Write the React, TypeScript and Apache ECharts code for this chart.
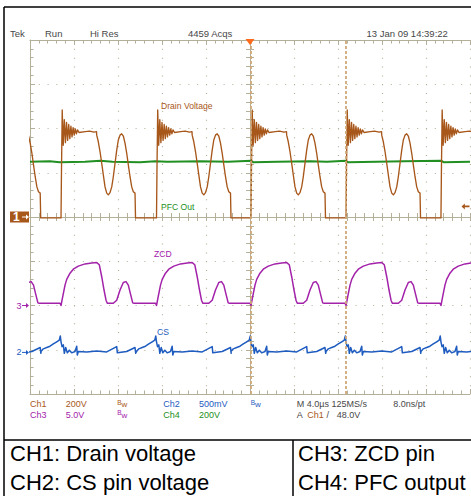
import React, { useEffect, useRef } from "react";
import * as echarts from "echarts";

const W = 471;
const H = 496;
const FONT = '"Liberation Sans", Arial, sans-serif';

// Graticule: 10 horizontal × 8 vertical divisions
const GRID = { left: 30, top: 40, width: 440, height: 354 };
const T_MIN = -20; // µs
const T_MAX = 20;
const T_PER_DIV = 4; // 4.0 µs/div
const Y_MIN = -4; // divisions
const Y_MAX = 4;

// Colours of the four channels
const CH1 = "#a8571a";
const CH2 = "#1f5cc0";
const CH3 = "#a322aa";
const CH4 = "#228f22";
const GRAY = "#474747";
const GRATICULE = "#b3af98";
const CURSOR = "#cfa878";

// Instants (µs) at which the MOSFET turns off and the drain snaps high
const switchEdges = [-25.8, -17.18, -8.5, 0.09, 8.73, 17.36];
// Cursor positions (µs)
const cursors = [0.09, 8.73];

// One switching period of each trace: [µs after the edge, level in divisions]
const drainCycle: [number, number][] = [
  [0, -0.02], [0.04, 1.0], [0.109, 2.42], [0.2, 1.62], [0.3, 2.2],
  [0.4, 1.68], [0.5, 2.14], [0.6, 1.73], [0.7, 2.09], [0.8, 1.77],
  [0.9, 2.05], [1.0, 1.81], [1.1, 2.02], [1.2, 1.85], [1.3, 1.99],
  [1.4, 1.88], [1.5, 1.97], [1.636, 1.91], [2.2, 1.93], [2.6, 1.94], [3.0, 1.92],
  [3.227, 1.93], [3.245, 1.85], [3.39, 1.7], [3.545, 1.48], [3.7, 1.21],
  [3.845, 0.95], [4.0, 0.68], [4.155, 0.54], [4.3, 0.5], [4.455, 0.55],
  [4.61, 0.68], [4.755, 0.91], [4.909, 1.21], [5.064, 1.51], [5.209, 1.74],
  [5.364, 1.85], [5.518, 1.88], [5.664, 1.83], [5.818, 1.67], [5.973, 1.44],
  [6.118, 1.18], [6.273, 0.91], [6.427, 0.68], [6.573, 0.57], [6.727, 0.54],
  [6.773, -0.02],
];

const zcdCycle: [number, number][] = [
  [-0.091, -1.95], [0, -2.0], [0.155, -1.8], [0.364, -1.54], [0.518, -1.41],
  [0.818, -1.27], [1.118, -1.18], [1.573, -1.11], [2.182, -1.06], [2.791, -1.04],
  [3.245, -1.03], [3.482, -1.08], [3.7, -1.35], [3.909, -1.65], [4.091, -1.88],
  [4.209, -1.95], [4.755, -1.95], [5.064, -1.88], [5.364, -1.65], [5.664, -1.48],
  [5.909, -1.46], [6.118, -1.54], [6.336, -1.76], [6.518, -1.94], [6.636, -1.95],
];

const csCycle: [number, number][] = [
  [-1.818, -3.04], [-1.609, -2.98], [-1.3, -2.95], [-1.0, -2.92], [-0.7, -2.87],
  [-0.391, -2.82], [-0.155, -2.78], [-0.064, -2.69], [0, -2.82], [0.091, -2.93],
  [0.209, -2.89], [0.3, -3.08], [0.427, -2.95], [0.573, -3.07], [0.755, -3.01],
  [0.973, -3.07], [1.273, -3.04], [1.427, -2.92], [1.482, -3.12], [1.573, -3.04],
  [2.336, -3.05], [3.245, -3.03], [4.155, -3.05], [5.064, -2.93], [5.118, -3.07],
  [5.973, -3.04], [6.727, -2.95], [6.791, -3.08],
];

// PFC output: a steady DC level with small switching blips
const pfcOut: [number, number][] = [
  [-20, 1.25], [-18.2, 1.26], [-17.3, 1.24], [-15, 1.25], [-13.6, 1.27],
  [-12.5, 1.25], [-10, 1.24], [-8.6, 1.26], [-7.5, 1.25], [-4.5, 1.26],
  [-2, 1.25], [0.1, 1.27], [0.3, 1.24], [2.5, 1.25], [5.5, 1.26], [7, 1.25],
  [8.7, 1.27], [8.9, 1.24], [11.5, 1.25], [14, 1.26], [17.4, 1.27],
  [17.6, 1.24], [20, 1.25],
];

// Ground reference markers (divisions)
const groundMarks = [
  { ch: "1", level: 0, color: CH1, boxed: true },
  { ch: "3", level: -2, color: CH3, boxed: false },
  { ch: "2", level: -3.06, color: CH2, boxed: false },
];

// Trigger: Ch1 rising, 48.0 V at 200 V/div
const TRIG_LEVEL_V = 48;
const CH1_V_PER_DIV = 200;

const statusTop: [number, string][] = [
  [10, "Tek"], [45, "Run"], [90, "Hi Res"], [188, "4459 Acqs"], [366.5, "13 Jan 09 14:39:22"],
];

const traceLabels: [number, number, string, string][] = [
  [161, 106, "Drain Voltage", CH1],
  [161, 207, "PFC Out", CH4],
  [154, 253.5, "ZCD", CH3],
  [157, 331.5, "CS", CH2],
];

const legendLeft = ["CH1: Drain voltage", "CH2: CS pin voltage"];
const legendRight = ["CH3: ZCD pin", "CH4: PFC output"];

function repeatCycle(cycle: [number, number][], edges: number[]): [number, number][] {
  const out: [number, number][] = [];
  edges.forEach((e) => cycle.forEach(([t, v]) => out.push([+(e + t).toFixed(3), v])));
  return out;
}

const yPx = (v: number) => GRID.top + ((Y_MAX - v) / (Y_MAX - Y_MIN)) * GRID.height;

function txt(x: number, y: number, s: string, color: string, size: number, extra: any = {}) {
  return {
    type: "text",
    x,
    y,
    silent: true,
    style: { text: s, fill: color, font: `${size}px ${FONT}`, verticalAlign: "middle", align: "left", ...extra },
  };
}

function bw(x: number, y: number, color: string) {
  return [txt(x, y - 1.8, "B", color, 6.5), txt(x + 4.2, y + 0.6, "w", color, 8)];
}

export default function App() {
  const ref = useRef<HTMLDivElement>(null);

  useEffect(() => {
    if (!ref.current) return;
    const chart = echarts.init(ref.current, undefined, { renderer: "svg" });

    const edgeAxisX = (pos: "top" | "bottom", split: boolean) => ({
      type: "value",
      min: T_MIN,
      max: T_MAX,
      interval: T_PER_DIV,
      position: pos,
      axisLine: { show: true, onZero: false, lineStyle: { color: GRATICULE, width: 1 } },
      axisTick: { show: true, inside: true, length: 5, lineStyle: { color: GRATICULE } },
      minorTick: { show: true, splitNumber: 5, length: 3.5, lineStyle: { color: GRATICULE } },
      axisLabel: { show: false },
      splitLine: {
        show: split,
        lineStyle: { color: GRATICULE, width: 1.2, type: [1, 7.85] },
      },
    });
    const centreAxisX = (inside: boolean) => ({
      type: "value",
      min: T_MIN,
      max: T_MAX,
      interval: T_PER_DIV,
      position: "bottom",
      axisLine: { show: true, onZero: true, onZeroAxisIndex: 0, lineStyle: { color: GRATICULE, width: 1 } },
      axisTick: { show: true, inside, length: 4, lineStyle: { color: GRATICULE } },
      minorTick: { show: true, splitNumber: 5, length: 4, lineStyle: { color: GRATICULE } },
      axisLabel: { show: false },
      splitLine: { show: false },
    });
    const edgeAxisY = () => ({
      type: "value",
      min: Y_MIN,
      max: Y_MAX,
      interval: 1,
      position: "left",
      axisLine: { show: true, onZero: false, lineStyle: { color: GRATICULE, width: 1 } },
      axisTick: { show: true, inside: true, length: 5, lineStyle: { color: GRATICULE } },
      minorTick: { show: true, splitNumber: 5, length: 3.5, lineStyle: { color: GRATICULE } },
      axisLabel: { show: false },
      splitLine: { show: true, lineStyle: { color: GRATICULE, width: 1.2, type: [1, 7.8] } },
    });
    const centreAxisY = (inside: boolean) => ({
      type: "value",
      min: Y_MIN,
      max: Y_MAX,
      interval: 1,
      position: "left",
      axisLine: { show: true, onZero: true, onZeroAxisIndex: 0, lineStyle: { color: GRATICULE, width: 1 } },
      axisTick: { show: true, inside, length: 4, lineStyle: { color: GRATICULE } },
      minorTick: { show: true, splitNumber: 5, length: 4, lineStyle: { color: GRATICULE } },
      axisLabel: { show: false },
      splitLine: { show: false },
    });

    const trace = (name: string, data: [number, number][], color: string, width: number, extra: any = {}) => ({
      name,
      type: "line",
      data,
      xAxisIndex: 0,
      yAxisIndex: 0,
      showSymbol: false,
      symbol: "none",
      clip: true,
      silent: true,
      lineStyle: { color, width, join: "round" },
      itemStyle: { color },
      ...extra,
    });

    const graphics: any[] = [];
    // frame and table rules
    const rule = (x1: number, y1: number, x2: number, y2: number) => ({
      type: "line",
      silent: true,
      shape: { x1, y1, x2, y2 },
      style: { stroke: "#000", lineWidth: 1.5 },
    });
    graphics.push(rule(4, 7, W, 7), rule(4, 7, 4, H), rule(4, 440, W, 440), rule(293, 440, 293, H));

    statusTop.forEach(([x, s]) => graphics.push(txt(x, 33, s, GRAY, 9.5)));

    // acquisition settings readout
    graphics.push(
      txt(30, 404, "Ch1", CH1, 9), txt(65.7, 404, "200V", CH1, 9), ...bw(117.3, 404, CH1),
      txt(163.3, 404, "Ch2", CH2, 9), txt(199, 404, "500mV", CH2, 9), ...bw(250.7, 404, CH2),
      txt(296.7, 404, "M 4.0µs 125MS/s", GRAY, 9), txt(393.3, 404, "8.0ns/pt", GRAY, 9),
      txt(30, 414.5, "Ch3", CH3, 9), txt(65.7, 414.5, "5.0V", CH3, 9), ...bw(117.3, 414.5, CH3),
      txt(163.3, 414.5, "Ch4", CH4, 9), txt(199, 414.5, "200V", CH4, 9),
      txt(296.7, 414.5, "A", GRAY, 9), txt(307.3, 414.5, "Ch1", CH1, 9),
      txt(326.5, 414.5, "/", GRAY, 9), txt(336.7, 414.5, `${TRIG_LEVEL_V.toFixed(1)}V`, GRAY, 9)
    );

    traceLabels.forEach(([x, y, s, c]) => graphics.push(txt(x, y, s, c, 8.6)));

    // ground reference markers on the left edge
    groundMarks.forEach((m) => {
      const y = yPx(m.level);
      if (m.boxed) {
        graphics.push({
          type: "rect",
          silent: true,
          shape: { x: 10, y: y - 5.5, width: 19, height: 11 },
          style: { fill: m.color },
        });
        graphics.push(txt(13, y, m.ch, "#fff", 9, { fontWeight: "bold" }));
      } else {
        graphics.push(txt(16.5, y, m.ch, m.color, 9));
      }
      const ac = m.boxed ? "#fff" : m.color;
      graphics.push({
        type: "line",
        silent: true,
        shape: { x1: 22, y1: y, x2: 27, y2: y },
        style: { stroke: ac, lineWidth: 1 },
      });
      graphics.push({
        type: "polygon",
        silent: true,
        shape: { points: [[26, y - 2.5], [29, y], [26, y + 2.5]] },
        style: { fill: ac },
      });
    });

    // table captions
    legendLeft.forEach((s, i) => graphics.push(txt(10, 453.5 + i * 28.5, s, "#000", 22)));
    legendRight.forEach((s, i) => graphics.push(txt(298, 453.5 + i * 28.5, s, "#000", 22)));

    chart.setOption({
      animation: false,
      backgroundColor: "#fff",
      grid: { ...GRID, containLabel: false },
      xAxis: [edgeAxisX("bottom", true), edgeAxisX("top", false), centreAxisX(true), centreAxisX(false)],
      yAxis: [edgeAxisY(), centreAxisY(true), centreAxisY(false)],
      series: [
        trace("PFC Out", pfcOut, CH4, 2, {
          markLine: {
            silent: true,
            symbol: "none",
            label: { show: false },
            lineStyle: { color: CURSOR, width: 1.8, type: [3, 2] },
            data: cursors.map((c) => ({ xAxis: c })),
          },
        }),
        trace("Drain Voltage", repeatCycle(drainCycle, switchEdges), CH1, 1.35, {
          markPoint: {
            silent: true,
            label: { show: false },
            data: [
              {
                coord: [0, Y_MAX],
                symbol: "triangle",
                symbolSize: [9, 6],
                symbolRotate: 180,
                symbolOffset: [0, 2],
                itemStyle: { color: "#ff6a1c" },
              },
              {
                coord: [T_MAX, TRIG_LEVEL_V / CH1_V_PER_DIV],
                symbol: "path://M0,5 L5,0 L5,3.5 L12,3.5 L12,6.5 L5,6.5 L5,10 Z",
                symbolSize: [8, 6],
                symbolOffset: [-4.5, 0],
                itemStyle: { color: CH1 },
              },
            ],
          },
        }),
        trace("ZCD", repeatCycle(zcdCycle, switchEdges), CH3, 1.5),
        trace("CS", repeatCycle(csCycle, switchEdges), CH2, 1.5),
      ],
      graphic: graphics,
    });

    return () => chart.dispose();
  }, []);

  return (
    <div
      ref={ref}
      style={{ position: "absolute", left: 0, top: 0, width: W, height: H, background: "#fff" }}
    />
  );
}
